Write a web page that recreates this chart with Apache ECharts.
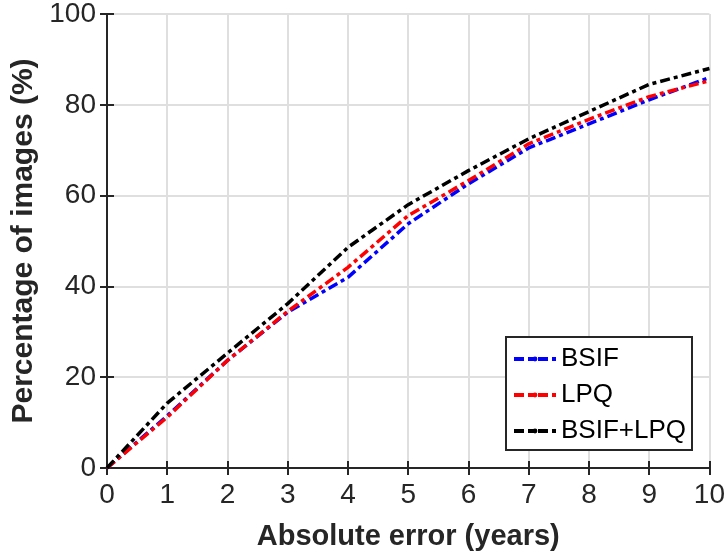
<!DOCTYPE html>
<html>
<head>
<meta charset="utf-8">
<script src="https://cdn.jsdelivr.net/npm/echarts@6/dist/echarts.min.js"></script>
<style>
  html, body { margin: 0; padding: 0; background: #fff; }
</style>
</head>
<body>
<div id="myChart" style="width: 728px; height: 556px;"></div>
<script>
const errors = [0, 1, 2, 3, 4, 5, 6, 7, 8, 9, 10]
const bsif = [0, 11.5, 23.7, 34.3, 42.0, 53.8, 62.6, 70.5, 75.8, 81.1, 86.0]
const lpq = [0, 11.2, 23.7, 34.5, 44.2, 55.6, 63.3, 71.4, 76.8, 81.8, 85.3]
const bsifLpq = [0, 14.3, 25.3, 36.2, 48.6, 58.0, 65.5, 72.5, 78.5, 84.5, 88.0]

const FONT = "'Liberation Sans', Arial, sans-serif"
const AXIS_COLOR = '#262626'

function pairs (ys) {
  return errors.map((x, i) => [x, ys[i]])
}

function lineSeries (name, color, ys) {
  return {
    name: name,
    type: 'line',
    data: pairs(ys),
    symbol: 'none',
    lineStyle: { color: color, width: 3.5, type: [10, 4, 4, 4] },
    itemStyle: { color: color },
    z: 5
  }
}

// 初始化图表
let myChart = echarts.init(document.getElementById('myChart'))

// plain axis for the top / right box edges, ticks pointing inward
const boxAxis = {
  axisLine: { show: true, lineStyle: { color: AXIS_COLOR, width: 2 } },
  axisTick: { show: true, inside: true, length: 7, lineStyle: { color: AXIS_COLOR, width: 2 } },
  axisLabel: { show: false },
  splitLine: { show: false }
}

myChart.setOption({
  animation: false,
  textStyle: { fontFamily: FONT },
  grid: { left: 107, right: 17, top: 13, bottom: 88 },
  legend: {
    orient: 'vertical',
    left: 506,
    top: 337,
    width: 186,
    padding: [9, 6, 6, 6],
    itemGap: 10,
    itemWidth: 42,
    itemHeight: 6,
    borderColor: AXIS_COLOR,
    borderWidth: 2,
    backgroundColor: '#fff',
    lineStyle: { width: 4, type: [10, 4, 6, 4] },
    textStyle: { fontFamily: FONT, fontSize: 26, color: '#000' },
    data: ['BSIF', 'LPQ', 'BSIF+LPQ']
  },
  xAxis: [
    {
      type: 'value',
      min: 0,
      max: 10,
      interval: 1,
      name: 'Absolute error (years)',
      nameLocation: 'middle',
      nameGap: 54,
      nameTextStyle: { fontFamily: FONT, fontSize: 29, fontWeight: 'bold', color: AXIS_COLOR },
      axisLine: { show: true, lineStyle: { color: AXIS_COLOR, width: 2 } },
      axisTick: { show: true, inside: true, length: 7, lineStyle: { color: AXIS_COLOR, width: 2 } },
      axisLabel: { fontFamily: FONT, fontSize: 28, color: AXIS_COLOR, margin: 13 },
      splitLine: { show: true, lineStyle: { color: '#dfdfdf', width: 2 } }
    },
    Object.assign({ type: 'value', position: 'top', min: 0, max: 10, interval: 1 }, boxAxis)
  ],
  yAxis: [
    {
      type: 'value',
      min: 0,
      max: 100,
      interval: 20,
      name: 'Percentage of images (%)',
      nameLocation: 'middle',
      nameGap: 66,
      nameTextStyle: { fontFamily: FONT, fontSize: 30, fontWeight: 'bold', color: AXIS_COLOR },
      axisLine: { show: true, lineStyle: { color: AXIS_COLOR, width: 2 } },
      axisTick: { show: true, inside: true, length: 7, lineStyle: { color: AXIS_COLOR, width: 2 } },
      axisLabel: { fontFamily: FONT, fontSize: 28, color: AXIS_COLOR, margin: 11 },
      splitLine: { show: true, lineStyle: { color: '#dfdfdf', width: 2 } }
    },
    Object.assign({ type: 'value', position: 'right', min: 0, max: 100, interval: 20 }, boxAxis)
  ],
  series: [
    lineSeries('BSIF', '#0000ff', bsif),
    lineSeries('LPQ', '#ff0000', lpq),
    lineSeries('BSIF+LPQ', '#000000', bsifLpq)
  ]
})
</script>
</body>
</html>
